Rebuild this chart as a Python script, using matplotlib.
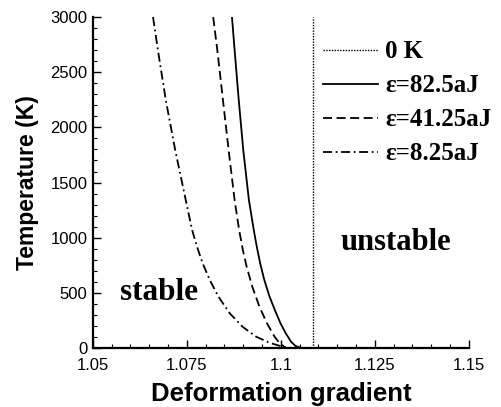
import numpy as np
import matplotlib
matplotlib.use('Agg')
import matplotlib.pyplot as plt
from matplotlib.ticker import FixedLocator, MultipleLocator

# Data
solid_x = [1.0870, 1.0877, 1.0888, 1.0900, 1.0915, 1.0928, 1.0936, 1.0945,
           1.0956, 1.0970, 1.0984, 1.0999, 1.1013, 1.1027, 1.1039, 1.1055]
solid_T = [3000, 2700, 2247, 1794, 1341, 1069, 918, 767,
           616, 465, 344, 224, 133, 57, 18, 0]

dashed_x = [1.0820, 1.0831, 1.0846, 1.0861, 1.0877, 1.0889, 1.0899, 1.0909,
            1.0924, 1.0943, 1.0963, 1.0983, 1.0997, 1.1011]
dashed_T = [3000, 2700, 2247, 1794, 1341, 1069, 888, 737,
            556, 374, 224, 103, 42, 6]

dashdot_x = [1.0660, 1.0673, 1.0694, 1.0719, 1.0747, 1.0764, 1.0777, 1.0792,
             1.0811, 1.0834, 1.0864, 1.0898, 1.0934, 1.0969, 1.1004, 1.1030]
dashdot_T = [3000, 2700, 2247, 1794, 1341, 1069, 918, 767,
             616, 465, 314, 193, 103, 48, 12, 0]

zero_k_x = 1.1085

labels = ['0 K', 'ε=82.5aJ', 'ε=41.25aJ', 'ε=8.25aJ']
xticks = [1.05, 1.075, 1.1, 1.125, 1.15]
xtick_labels = ['1.05', '1.075', '1.1', '1.125', '1.15']
yticks = [0, 500, 1000, 1500, 2000, 2500, 3000]

fig = plt.figure(figsize=(5.02, 4.07), dpi=100)
ax = fig.add_axes([0.185, 0.145, 0.749, 0.813])

ax.plot([zero_k_x, zero_k_x], [0, 3000], color='black', lw=1.0,
        linestyle=(0, (1, 1)), label=labels[0])
ax.plot(solid_x, solid_T, color='black', lw=1.3, label=labels[1])
ax.plot(dashed_x, dashed_T, color='black', lw=1.3,
        linestyle=(0, (5, 2.5)), label=labels[2])
ax.plot(dashdot_x, dashdot_T, color='black', lw=1.3,
        linestyle=(0, (5, 2, 1, 2)), label=labels[3])

ax.set_xlim(1.05, 1.15)
ax.set_ylim(0, 3000)

ax.xaxis.set_major_locator(FixedLocator(xticks))
ax.set_xticklabels(xtick_labels)
ax.xaxis.set_minor_locator(MultipleLocator(0.005))
ax.set_yticks(yticks)
ax.yaxis.set_minor_locator(MultipleLocator(100))

for s in ['top', 'right']:
    ax.spines[s].set_visible(False)
for s in ['left', 'bottom']:
    ax.spines[s].set_linewidth(1.6)

ax.tick_params(which='major', direction='in', length=6, width=1.0,
               labelsize=12, pad=4)
ax.tick_params(axis='x', which='major', pad=7)
ax.tick_params(which='minor', direction='in', length=3, width=0.8)
for t in ax.get_xticklabels() + ax.get_yticklabels():
    t.set_family('Liberation Sans')

ax.set_xlabel('Deformation gradient', fontsize=18.5, fontweight='bold',
              family='Liberation Sans', labelpad=7)
ax.set_ylabel('Temperature (K)', fontsize=16.5, fontweight='bold',
              family='Liberation Sans', labelpad=8)

ax.text(1.0676, 500, 'stable', fontsize=22.5, fontweight='bold',
        family='Liberation Serif', ha='center', va='center')
ax.text(1.1306, 960, 'unstable', fontsize=22, fontweight='bold',
        family='Liberation Serif', ha='center', va='center')

ax.legend(loc='upper left', bbox_to_anchor=(0.612, 0.93), frameon=False,
          prop={'family': 'Liberation Serif', 'weight': 'bold', 'size': 18},
          handlelength=2.2, handletextpad=0.3, labelspacing=0.44,
          borderaxespad=0, borderpad=0)

fig.savefig('out.png', dpi=100)
